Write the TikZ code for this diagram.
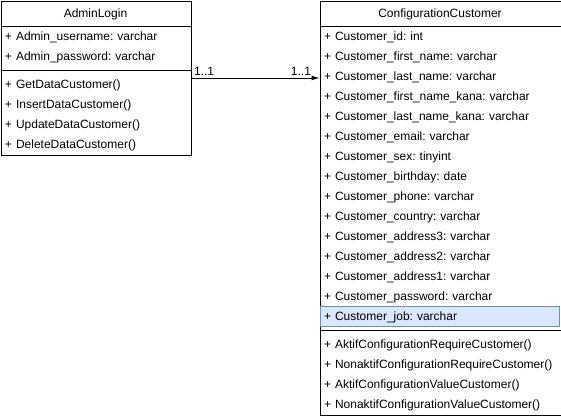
\documentclass[tikz,border=0pt]{standalone}
\usepackage{fontspec}
\setmainfont{Liberation Sans}
\usetikzlibrary{positioning,arrows.meta}

\definecolor{selfill}{HTML}{DAE8FC}
\definecolor{selline}{HTML}{6C8EBF}

\begin{document}
\frenchspacing
\begin{tikzpicture}[%
    x=1pt, y=-1pt,                   % one unit is one pixel, y grows downwards
    >={Latex[length=8pt,width=5pt]}, % small filled arrow head
    node distance=20pt,              % one member row
    font=\fontsize{12}{14}\selectfont\frenchspacing,
    ]
% -------------------------------------------------
% Class boxes and member rows
% <on grid> keeps the rows exactly one row apart
\tikzset{
  box/.style={draw, line width=1pt, anchor=north west, inner sep=0pt},
  title/.style={inner sep=0pt, text height=10pt, text depth=2pt},
  member/.style={on grid, inner sep=0pt, text height=10pt, text depth=2pt, align=left},
  adm/.style={member, text width=181pt},
  cfg/.style={member, text width=232pt},
  sel/.style={draw=selline, fill=selfill, line width=1pt, inner xsep=3.5pt, inner ysep=4pt},
  sep/.style={line width=1pt},
  mult/.style={inner sep=2pt}
}
\useasboundingbox (0,0) rectangle (561,415);
% -------------------------------------------------
% AdminLogin
\node [box, minimum width=190pt, minimum height=154pt] (admin) at (0.5,0.5) {};
\node [title] (admin-name) at (95.5,13.5) {AdminLogin};
\draw [sep] (0.5,26.5) -- (190.5,26.5);
\draw [sep] (0.5,70.5) -- (190.5,70.5);

\node [adm] (a-user) at (95.5,36) {+ Admin\_username: varchar};
\node [adm, below=of a-user] (a-pass) {+ Admin\_password: varchar};
\node [adm, below=28pt of a-pass] (a-get) {+ GetDataCustomer()};
\node [adm, below=of a-get] (a-ins) {+ InsertDataCustomer()};
\node [adm, below=of a-ins] (a-upd) {+ UpdateDataCustomer()};
\node [adm, below=of a-upd] (a-del) {+ DeleteDataCustomer()};

% -------------------------------------------------
% ConfigurationCustomer
\node [box, minimum width=241pt, minimum height=414pt] (config) at (319.5,0.5) {};
\node [title] (config-name) at (440,13.5) {ConfigurationCustomer};
\draw [sep] (319.5,26.5) -- (560.5,26.5);
\draw [sep] (319.5,330.5) -- (560.5,330.5);

\node [cfg] (c-id) at (440,36) {+ Customer\_id: int};
\node [cfg, below=of c-id] (c-fname) {+ Customer\_first\_name: varchar};
\node [cfg, below=of c-fname] (c-lname) {+ Customer\_last\_name: varchar};
\node [cfg, below=of c-lname] (c-fkana) {+ Customer\_first\_name\_kana: varchar};
\node [cfg, below=of c-fkana] (c-lkana) {+ Customer\_last\_name\_kana: varchar};
\node [cfg, below=of c-lkana] (c-mail) {+ Customer\_email: varchar};
\node [cfg, below=of c-mail] (c-sex) {+ Customer\_sex: tinyint};
\node [cfg, below=of c-sex] (c-birth) {+ Customer\_birthday: date};
\node [cfg, below=of c-birth] (c-phone) {+ Customer\_phone: varchar};
\node [cfg, below=of c-phone] (c-country) {+ Customer\_country: varchar};
\node [cfg, below=of c-country] (c-addr3) {+ Customer\_address3: varchar};
\node [cfg, below=of c-addr3] (c-addr2) {+ Customer\_address2: varchar};
\node [cfg, below=of c-addr2] (c-addr1) {+ Customer\_address1: varchar};
\node [cfg, below=of c-addr1] (c-pass) {+ Customer\_password: varchar};
\node [cfg, sel, below=of c-pass] (c-job) {+ Customer\_job: varchar};
\node [cfg, below=28pt of c-job] (c-areq) {+ AktifConfigurationRequireCustomer()};
\node [cfg, below=of c-areq] (c-nreq) {+ NonaktifConfigurationRequireCustomer()};
\node [cfg, below=of c-nreq] (c-aval) {+ AktifConfigurationValueCustomer()};
\node [cfg, below=of c-aval] (c-nval) {+ NonaktifConfigurationValueCustomer()};

% -------------------------------------------------
% Association
\draw [->, line width=1pt] (admin.east) -- (admin.east -| config.west)
  node [mult, pos=0, anchor=south west] {1..1}
  node [mult, pos=1, anchor=south east, xshift=-6pt] {1..1};

% -------------------------------------------------
\end{tikzpicture}
\end{document}
